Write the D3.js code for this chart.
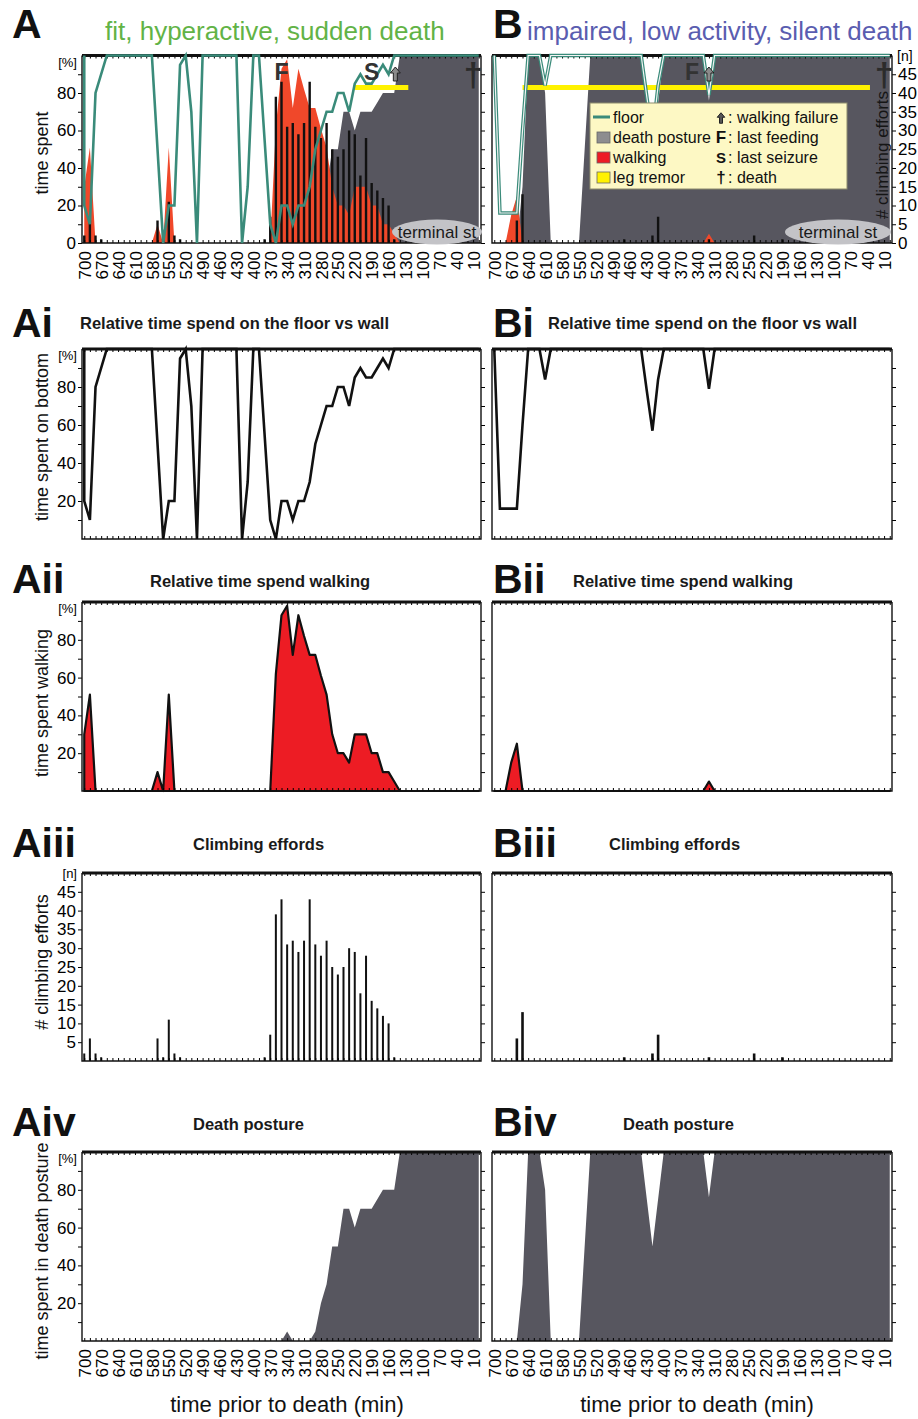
<!DOCTYPE html>
<html>
<head>
<meta charset="utf-8">
<script src="https://cdn.jsdelivr.net/npm/d3@7"></script>
<style>
  body { margin: 0; background: #fff; }
</style>
</head>
<body>
<script>
// values: [minutes before death, value]
// floor = % time on bottom, walk = % time walking, death = % time in death posture, climb = # climbing efforts
var floorA = [[700,100],[700,20],[690,10],[680,80],[660,100],[580,100],[560,0],[550,20],[540,20],[530,95],[520,100],
  [510,70],[500,0],[490,100],[430,100],[420,0],[410,30],[400,100],[390,100],[370,10],[360,0],[350,20],[340,20],
  [330,10],[320,20],[310,20],[300,30],[290,50],[280,60],[270,70],[260,70],[250,80],[240,80],[230,70],[220,85],
  [210,90],[200,85],[190,85],[180,90],[170,95],[160,90],[150,100],[0,100]];
var walkA = [[700,30],[690,51],[680,0],[580,0],[570,10],[560,0],[550,51],[540,0],[370,0],[360,62],[350,93],
  [340,98],[330,72],[320,93],[310,82],[300,72],[290,72],[280,61],[270,51],[260,30],[250,20],[240,20],[230,15],
  [220,30],[210,30],[200,30],[190,20],[180,20],[170,10],[160,10],[150,5],[140,0],[0,0]];
var deathA = [[700,0],[350,0],[340,5],[330,0],[300,0],[290,5],[280,20],[270,30],[260,50],[250,50],[240,70],
  [230,70],[220,60],[210,70],[200,70],[190,70],[180,75],[170,80],[160,80],[150,80],[140,100],[0,100]];
var climbA = [[700,2],[690,6],[680,2],[670,1],[570,6],[560,1],[550,11],[540,2],[530,1],[380,1],[370,7],[360,39],
  [350,43],[340,31],[330,32],[320,29],[310,32],[300,43],[290,31],[280,28],[270,32],[260,25],[250,23],[240,25],
  [230,30],[220,29],[210,18],[200,28],[190,16],[180,14],[170,12],[160,10],[150,1]];

var floorB = [[700,100],[690,16],[660,16],[650,60],[640,100],[620,100],[610,84],[600,100],[440,100],[430,78],
  [420,57],[410,84],[400,100],[330,100],[320,79],[310,100],[0,100]];
var walkB = [[700,0],[680,0],[670,15],[660,25],[650,0],[330,0],[320,5],[310,0],[0,0]];
var deathB = [[700,0],[660,0],[650,30],[640,100],[620,100],[610,80],[600,0],[550,0],[530,100],[440,100],
  [420,50],[400,100],[330,100],[320,76],[310,100],[0,100]];
var climbB = [[660,6],[650,13],[470,1],[420,2],[410,7],[320,1],[240,2],[190,1]];

var tremorA = [220, 125];
var tremorB = [650, 35];
var eventsA = [["F",350],["S",190],["up",148],["†",10]];
var eventsB = [["F",350],["up",320],["†",10]];

var timeGrid = d3.range(700, -1, -10);
var timeLabels = d3.range(700, 0, -30);

var TEAL = "#3a8b7a", GREY = "#57565f", RED_TOP = "#f0482a", RED = "#ed1c24", YELLOW = "#fff200";

var svg = d3.select("body").append("svg")
  .attr("width", 918).attr("height", 1419)
  .style("font-family", "'Liberation Sans', Arial, Helvetica, sans-serif");

var cols = { A: [82, 481], B: [492, 892] };
var rows = { top: [243, 55.5], i: [539, 349], ii: [791, 602], iii: [1061, 873], iv: [1341, 1152] };

function xFor(c) { return d3.scaleLinear().domain([704, -4]).range(cols[c]); }
function yFor(r, max) { return d3.scaleLinear().domain([0, max]).range(rows[r]); }

function noDomain(a) { a.select(".domain").remove(); }

function drawFrame(x, y, o) {
  var g = svg.append("g");
  var x0 = x.range()[0], x1 = x.range()[1], yb = y.range()[0], yt = y.range()[1];
  g.append("g").attr("transform", "translate(0," + yb + ")")
    .call(d3.axisBottom(x).tickValues(timeGrid).tickSize(-3).tickFormat("")).call(noDomain);
  g.append("g").attr("transform", "translate(0," + yt + ")")
    .call(d3.axisTop(x).tickValues(timeGrid).tickSize(-3).tickFormat("")).call(noDomain);
  if (o.left) {
    var la = g.append("g").attr("transform", "translate(" + x0 + ",0)")
      .call(d3.axisLeft(y).tickValues(o.ticks).tickSize(4).tickPadding(2)
        .tickFormat(function(d) { return o.labels.indexOf(d) >= 0 ? d : ""; }))
      .call(noDomain);
    la.attr("font-size", 17).attr("font-family", null);
    g.append("text").attr("x", x0 - 5).attr("y", yt + (o.unit == "[n]" ? 5 : 11)).attr("text-anchor", "end")
      .attr("font-size", 13).text(o.unit);
  }
  var ra = g.append("g").attr("transform", "translate(" + x1 + ",0)")
    .call(d3.axisRight(y).tickValues(o.ticks).tickSize(4).tickPadding(2)
      .tickFormat(function(d) { return o.right && o.labels.indexOf(d) >= 0 ? d : ""; }))
    .call(noDomain);
  ra.attr("font-size", 17).attr("font-family", null);
  if (o.right) {
    g.append("text").attr("x", x1 + 5).attr("y", yt + 5).attr("font-size", 14).text(o.unit);
  }
  g.append("path").attr("d", "M" + x0 + "," + yt + "V" + yb + "H" + x1 + "V" + yt)
    .attr("fill", "none").attr("stroke", "#111").attr("stroke-width", 1.4);
  g.append("line").attr("x1", x0).attr("x2", x1).attr("y1", yt).attr("y2", yt)
    .attr("stroke", "#111").attr("stroke-width", 3);
  if (o.timeLabels) {
    var ta = g.append("g").attr("transform", "translate(0," + yb + ")")
      .call(d3.axisBottom(x).tickValues(timeLabels).tickSize(0).tickFormat(d3.format("d")))
      .call(noDomain);
    ta.attr("font-size", 17).attr("font-family", null);
    ta.selectAll("text").attr("transform", "rotate(-90)").attr("text-anchor", "end")
      .attr("x", -8).attr("y", 0).attr("dy", "0.36em");
  }
  return g;
}

function area(x, y) {
  return d3.area().x(function(d) { return x(d[0]); }).y0(y(0)).y1(function(d) { return y(d[1]); });
}
function line(x, y) {
  return d3.line().x(function(d) { return x(d[0]); }).y(function(d) { return y(d[1]); });
}
function bars(g, data, x, y, w) {
  g.selectAll(null).data(data).enter().append("rect")
    .attr("x", function(d) { return x(d[0]) - w / 2; })
    .attr("width", w)
    .attr("y", function(d) { return y(d[1]); })
    .attr("height", function(d) { return y(0) - y(d[1]); })
    .attr("fill", "#111");
}
function upArrow(g, cx, cy, s, fill) {
  g.append("path")
    .attr("d", "M0,-7L5,-1L2,-1L2,7L-2,7L-2,-1L-5,-1Z")
    .attr("transform", "translate(" + cx + "," + cy + ") scale(" + s + ")")
    .attr("fill", fill).attr("stroke", "#222").attr("stroke-width", 1 / s);
}

function label(txt, x, y, size, opts) {
  var t = svg.append("text").attr("x", x).attr("y", y).attr("font-size", size).text(txt);
  if (opts) Object.keys(opts).forEach(function(k) { t.attr(k, opts[k]); });
  return t;
}
function yTitle(txt, cx, cy) {
  svg.append("text").attr("transform", "translate(" + cx + "," + cy + ") rotate(-90)")
    .attr("text-anchor", "middle").attr("font-size", 18).attr("fill", "#111").text(txt);
}

// ---------- top overview panels ----------
function overview(c, floor, walk, death, climb, tremor, events) {
  var x = xFor(c), y = yFor("top", 100), yN = yFor("top", 50);
  var g = svg.append("g");
  g.append("path").datum(death).attr("d", area(x, y)).attr("fill", GREY);
  g.append("path").datum(walk).attr("d", area(x, y)).attr("fill", RED_TOP);
  bars(g, climb, x, yN, 2.4);
  g.append("line").attr("x1", x(tremor[0])).attr("x2", x(tremor[1]))
    .attr("y1", y(83)).attr("y2", y(83)).attr("stroke", YELLOW).attr("stroke-width", 5);
  if (c == "A") {
    drawFrame(x, y, { left: true, ticks: d3.range(0, 100, 10), labels: [0, 20, 40, 60, 80], unit: "[%]", timeLabels: true });
  } else {
    drawFrame(x, yN, { right: true, ticks: d3.range(0, 50, 5), labels: d3.range(0, 50, 5), unit: "[n]", timeLabels: true });
  }
  var fl = svg.append("g");
  fl.append("path").datum(floor).attr("d", line(x, y)).attr("fill", "none")
    .attr("stroke", TEAL).attr("stroke-width", c == "A" ? 2.6 : 3.6);
  if (c == "B") {
    fl.append("path").datum(floor).attr("d", line(x, y)).attr("fill", "none")
      .attr("stroke", "#f4f4f4").attr("stroke-width", 1.2);
  }
  events.forEach(function(e) {
    if (e[0] == "up") upArrow(svg, x(e[1]), 74, 1, "#8a8a8a");
    else if (e[0] == "†") label("†", x(e[1]), 86, 34, { "text-anchor": "middle", "font-weight": "bold", fill: "#2b2b2b" });
    else label(e[0], x(e[1]), 80, 23, { "text-anchor": "middle", "font-weight": "bold", fill: "#333" });
  });
  var ex = c == "A" ? 437 : 838, rx = c == "A" ? 45 : 53;
  svg.append("ellipse").attr("cx", ex).attr("cy", 232).attr("rx", rx).attr("ry", 12.5).attr("fill", "#c3c3c7");
  label("terminal st", ex, 238, 17, { "text-anchor": "middle", fill: "#1a1a1a" });
}

overview("A", floorA, walkA, deathA, climbA, tremorA, eventsA);
overview("B", floorB, walkB, deathB, climbB, tremorB, eventsB);

svg.append("text").attr("transform", "translate(888,155) rotate(-90)").attr("text-anchor", "middle")
  .attr("font-size", 17).attr("fill", "#151515").text("# climbing efforts");
yTitle("time spent", 48, 153);

// legend
var lg = svg.append("g");
lg.append("rect").attr("x", 590).attr("y", 103).attr("width", 257).attr("height", 86)
  .attr("fill", "#fdf8c4").attr("stroke", "#8d8b6e").attr("stroke-width", 1);
lg.append("line").attr("x1", 593).attr("x2", 610).attr("y1", 117).attr("y2", 117)
  .attr("stroke", TEAL).attr("stroke-width", 3);
[["#8d8d8f", 137], [RED, 157], [YELLOW, 177]].forEach(function(s) {
  lg.append("rect").attr("x", 597).attr("y", s[1] - 5).attr("width", 13).attr("height", 11)
    .attr("fill", s[0]).attr("stroke", "#666").attr("stroke-width", 0.8);
});
[["floor", 123], ["death posture", 143], ["walking", 163], ["leg tremor", 183]].forEach(function(s) {
  label(s[0], 613, s[1], 16, { fill: "#111" });
});
upArrow(lg, 721, 118, 0.75, "#555");
[["F", 143], ["S", 163], ["†", 183]].forEach(function(s) {
  label(s[0], 721, s[1], s[0] == "S" ? 15 : 17, { "text-anchor": "middle", "font-weight": "bold", fill: "#111" });
});
[[": walking failure", 123], [": last feeding", 143], [": last seizure", 163], [": death", 183]].forEach(function(s) {
  label(s[0], 728, s[1], 16, { fill: "#111" });
});

// ---------- detail panels ----------
function detail(c, r, kind, data) {
  var x = xFor(c), max = kind == "climb" ? 50 : 100, y = yFor(r, max);
  var g = svg.append("g");
  if (kind == "floor") {
    g.append("path").datum(data).attr("d", line(x, y)).attr("fill", "none")
      .attr("stroke", "#111").attr("stroke-width", 2.6).attr("stroke-linejoin", "miter");
  } else if (kind == "walk") {
    g.append("path").datum(data).attr("d", area(x, y)).attr("fill", RED)
      .attr("stroke", "#111").attr("stroke-width", 2.2).attr("stroke-linejoin", "round");
  } else if (kind == "death") {
    g.append("path").datum(data).attr("d", area(x, y)).attr("fill", GREY);
  } else {
    bars(g, data, x, y, c == "A" ? 2 : 2.6);
  }
  var pct = { ticks: d3.range(10, 100, 10), labels: [20, 40, 60, 80], unit: "[%]" };
  var cnt = { ticks: d3.range(5, 50, 5), labels: d3.range(5, 50, 5), unit: "[n]" };
  var o = Object.assign({}, kind == "climb" ? cnt : pct);
  o.left = c == "A";
  o.timeLabels = r == "iv";
  drawFrame(x, y, o);
}

detail("A", "i", "floor", floorA);
detail("B", "i", "floor", floorB);
detail("A", "ii", "walk", walkA);
detail("B", "ii", "walk", walkB);
detail("A", "iii", "climb", climbA);
detail("B", "iii", "climb", climbB);
detail("A", "iv", "death", deathA);
detail("B", "iv", "death", deathB);

yTitle("time spent on bottom", 48, 437);
yTitle("time spent walking", 48, 703);
yTitle("# climbing efforts", 48, 962);
yTitle("time spent in death posture", 48, 1251);

// panel letters and titles
[["A", 12, 38], ["B", 493, 38], ["Ai", 12, 337], ["Bi", 493, 337], ["Aii", 12, 593], ["Bii", 493, 593],
 ["Aiii", 12, 857], ["Biii", 493, 857], ["Aiv", 12, 1136], ["Biv", 493, 1136]].forEach(function(p) {
  label(p[0], p[1], p[2], 41, { "font-weight": "bold", fill: "#111" });
});
label("fit, hyperactive, sudden death", 105, 40, 26, { fill: "#62b346" });
label("impaired, low activity, silent death", 527, 40, 26, { fill: "#5a5db0" });

[["Relative time spend on the floor vs wall", 80, 548, 329],
 ["Relative time spend walking", 150, 573, 587],
 ["Climbing effords", 193, 609, 850],
 ["Death posture", 193, 623, 1130]].forEach(function(t) {
  label(t[0], t[1], t[3], 16.5, { "font-weight": "bold", fill: "#1a1a1a" });
  label(t[0], t[2], t[3], 16.5, { "font-weight": "bold", fill: "#1a1a1a" });
});

label("time prior to death (min)", 287, 1412, 22, { "text-anchor": "middle", fill: "#111" });
label("time prior to death (min)", 697, 1412, 22, { "text-anchor": "middle", fill: "#111" });
</script>
</body>
</html>
